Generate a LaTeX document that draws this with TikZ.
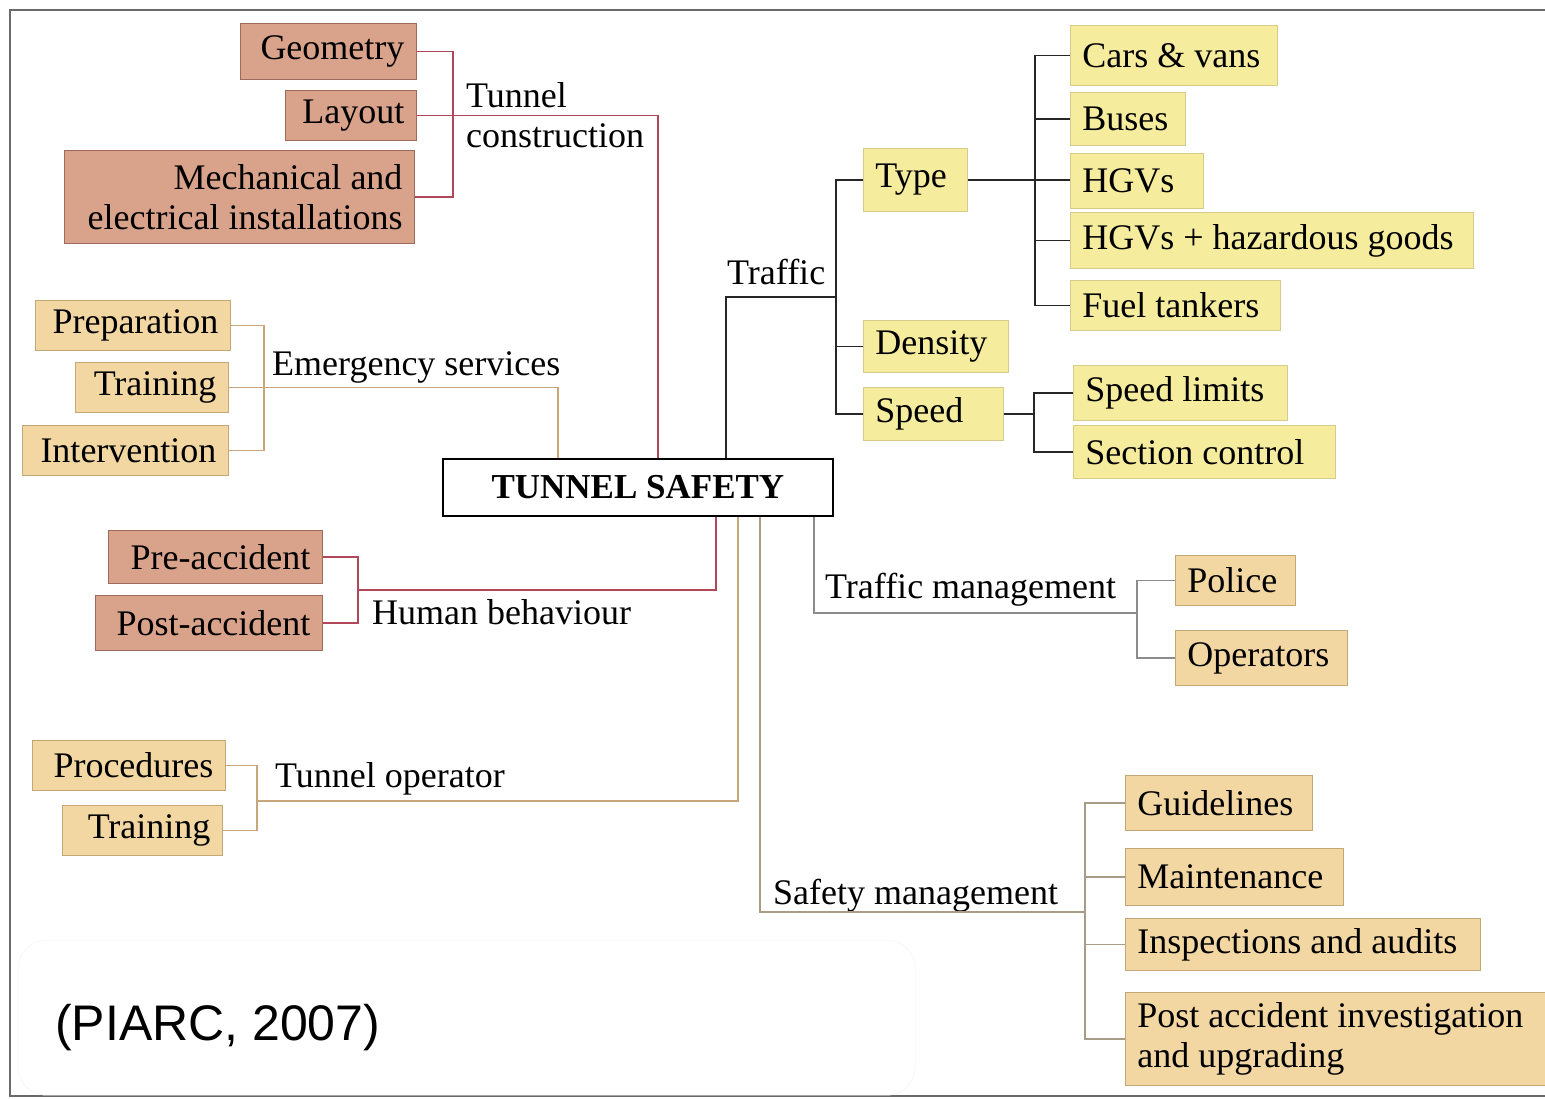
\documentclass[tikz,border=0pt]{standalone}
\usepackage{fontspec}
\setmainfont{Liberation Serif}
\newfontfamily\citefont{Liberation Sans}
\usetikzlibrary{calc}

\definecolor{salmonfill}{HTML}{D9A28A}
\definecolor{salmonedge}{HTML}{9C6B5C}
\definecolor{tanfill}{HTML}{F3D7A2}
\definecolor{tanedge}{HTML}{C4A777}
\definecolor{yelfill}{HTML}{F6EC9E}
\definecolor{yeledge}{HTML}{D6CB8C}
\definecolor{linered}{HTML}{B0485A}
\definecolor{linetan}{HTML}{C8A67C}
\definecolor{linegray}{HTML}{8C8C8C}
\definecolor{linesafe}{HTML}{A89C86}
\definecolor{framegray}{HTML}{6A6A6A}

\newcommand\boxfont{\fontsize{36}{40}\selectfont}

\tikzset{
  x=1pt, y=-1pt,
  boxbase/.style={draw, line width=0.9pt, inner xsep=12pt, inner ysep=0pt,
    font=\boxfont, anchor=north west},
  salmonbox/.style={boxbase, fill=salmonfill, draw=salmonedge, align=flush right},
  tanbox/.style={boxbase, fill=tanfill, draw=tanedge, align=flush right},
  tanrbox/.style={boxbase, fill=tanfill, draw=tanedge, align=flush left},
  yelbox/.style={boxbase, fill=yelfill, draw=yeledge, align=flush left},
  lbl/.style={font=\boxfont, inner sep=0pt, anchor=base west},
  redline/.style={draw=linered, line width=1.4pt},
  tanline/.style={draw=linetan, line width=1.4pt},
  grayline/.style={draw=linegray, line width=1.4pt},
  safeline/.style={draw=linesafe, line width=1.4pt},
  blackline/.style={draw=black!85, line width=1.6pt},
}

\begin{document}
\begin{tikzpicture}
\useasboundingbox (0,0) rectangle (1545,1098);
\fill[white] (0,0) rectangle (1545,1098);

% outer frame
\draw[framegray, line width=1.5pt] (1545,10) -- (10,10) -- (10,1096) -- (1545,1096);

% central node
\node[draw=black, line width=1.8pt, fill=white, minimum width=390pt, minimum height=57pt,
      inner sep=0pt, font=\fontsize{35}{40}\selectfont\bfseries, anchor=north west]
      (ts) at (442,458) {TUNNEL SAFETY};

% tunnel construction
\node[salmonbox, text width=152pt, minimum height=56pt] (geo)  at (240,23)  {Geometry};
\node[salmonbox, text width=107pt, minimum height=50pt] (lay)  at (285,90)  {Layout};
\node[salmonbox, text width=326pt, minimum height=93pt] (mech) at (64,150)  {Mechanical and\\electrical installations};
\node[lbl, anchor=north west, align=flush left] (tcl) at (466,82) {Tunnel\\construction};

% emergency services
\node[tanbox, text width=171pt, minimum height=50pt] (prep) at (35,300) {Preparation};
\node[tanbox, text width=129pt, minimum height=50pt] (trnA) at (75,362) {Training};
\node[tanbox, text width=182pt, minimum height=50pt] (intv) at (22,425) {Intervention};
\node[lbl] (esl) at (272,375) {Emergency services};

% human behaviour
\node[salmonbox, text width=190pt, minimum height=53pt] (pre)  at (108,530) {Pre-accident};
\node[salmonbox, text width=203pt, minimum height=55pt] (post) at (95,595)  {Post-accident};
\node[lbl] (hbl) at (372,624) {Human behaviour};

% tunnel operator
\node[tanbox, text width=169pt, minimum height=50pt] (proc) at (32,740) {Procedures};
\node[tanbox, text width=136pt, minimum height=50pt] (trnB) at (62,805) {Training};
\node[lbl] (tol) at (275,787) {Tunnel operator};

% traffic
\node[lbl] (trl) at (727,284) {Traffic};
\node[yelbox, text width=80pt,  minimum height=63pt] (type)  at (863,148) {Type};
\node[yelbox, text width=121pt, minimum height=52pt] (dens)  at (863,320) {Density};
\node[yelbox, text width=116pt, minimum height=53pt] (speed) at (863,387) {Speed};
\node[yelbox, text width=183pt, minimum height=60pt] (cars)  at (1070,25)  {Cars \& vans};
\node[yelbox, text width=91pt,  minimum height=53pt] (bus)   at (1070,92)  {Buses};
\node[yelbox, text width=109pt, minimum height=55pt] (hgv)   at (1070,153) {HGVs};
\node[yelbox, text width=379pt, minimum height=56pt] (haz)   at (1070,212) {HGVs + hazardous goods};
\node[yelbox, text width=186pt, minimum height=50pt] (fuel)  at (1070,280) {Fuel tankers};
\node[yelbox, text width=190pt, minimum height=55pt] (slim)  at (1073,365) {Speed limits};
\node[yelbox, text width=238pt, minimum height=53pt] (sect)  at (1073,425) {Section control};

% traffic management
\node[lbl] (tml) at (825,598) {Traffic management};
\node[tanrbox, text width=96pt,  minimum height=50pt] (police) at (1175,555) {Police};
\node[tanrbox, text width=148pt, minimum height=55pt] (oper)   at (1175,630) {Operators};

% safety management
\node[lbl] (sml) at (773,904) {Safety management};
\node[tanrbox, text width=163pt, minimum height=55pt] (guide) at (1125,775) {Guidelines};
\node[tanrbox, text width=194pt, minimum height=57pt] (maint) at (1125,848) {Maintenance};
\node[tanrbox, text width=331pt, minimum height=52pt] (insp)  at (1125,918) {Inspections and audits};
\node[tanrbox, text width=396pt, minimum height=93pt] (pacc)  at (1125,992) {Post accident investigation\\and upgrading};

% junction points
\coordinate (trj) at (836,297);
\coordinate (tmj) at (1137,613);
\coordinate (smj) at (1085,912);
\coordinate (toj) at (256,801);
\coordinate (trb) at ($(type.west)+(-27,0)$);
\coordinate (tyb) at ($(cars.west)+(-35,0)$);
\coordinate (spb) at ($(speed.east)+(30,0)$);
\coordinate (hbj) at ($(pre.east)!0.5!(post.east)+(35,0)$);

% connectors: tunnel construction
\draw[redline] (geo.east) -- ++(36,0) |- (mech.east);
\draw[redline] (lay.east) -| ($(ts.north)+(20,0)$);

% connectors: emergency services
\draw[tanline] (prep.east) -- ++(33,0) |- (intv.east);
\draw[tanline] (trnA.east) -| ($(ts.north)+(-80,0)$);

% connectors: human behaviour
\draw[redline] (pre.east) -- ++(35,0) |- (post.east);
\draw[redline] (hbj) -| ($(ts.south)+(78,0)$);

% connectors: tunnel operator
\draw[tanline] (proc.east) -- ++(31,0) |- (trnB.east);
\draw[tanline] (toj) -| ($(ts.south)+(100,0)$);

% connectors: traffic
\draw[blackline] ($(ts.north)+(88,0)$) |- (trj);
\draw[blackline] (type.west) -- (trb) |- (speed.west);
\draw[blackline] (dens.west -| trb) -- (dens.west);
\draw[blackline] (type.east) -- (type.east -| hgv.west);
\draw[blackline] (cars.west) -| (tyb) |- (fuel.west);
\draw[blackline] (bus.west -| tyb) -- (bus.west);
\draw[blackline] (haz.west -| tyb) -- (haz.west);
\draw[blackline] (speed.east) -- (spb);
\draw[blackline] (slim.west) -| (spb) |- (sect.west);

% connectors: traffic management
\draw[grayline] ($(ts.south)+(176,0)$) |- (tmj);
\draw[grayline] (police.west) -| (tmj) |- (oper.west);

% connectors: safety management
\draw[safeline] ($(ts.south)+(122,0)$) |- (smj);
\draw[safeline] (guide.west) -| (smj) |- (pacc.west);
\draw[safeline] (maint.west -| smj) -- (maint.west);
\draw[safeline] (insp.west -| smj) -- (insp.west);

% source note
\node[fill=white, draw=black!5, rounded corners=28pt, minimum width=897pt, minimum height=155pt,
      anchor=north west, inner sep=0pt] (srcbox) at (18,940) {};
\node[font=\citefont\fontsize{50}{56}\selectfont, inner sep=0pt, anchor=base west]
      (src) at (55,1040) {(PIARC, 2007)};
\end{tikzpicture}
\end{document}
